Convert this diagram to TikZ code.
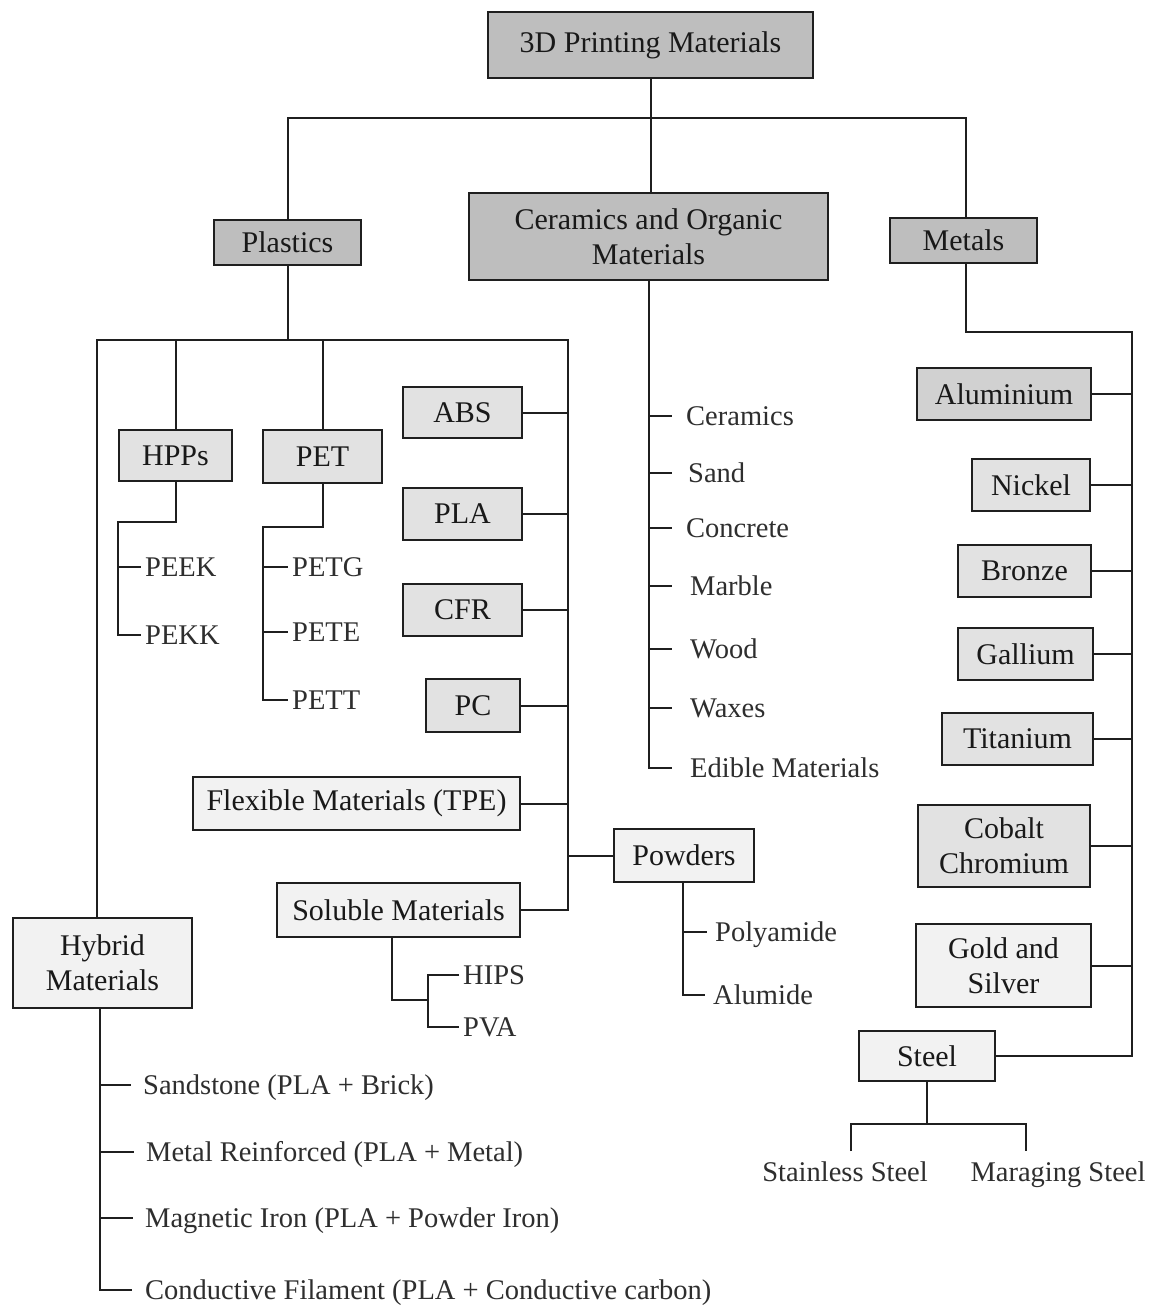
\documentclass[tikz,border=0pt]{standalone}
\usepackage{fontspec}
\setmainfont{Liberation Serif}
\definecolor{cA}{gray}{0.745}
\definecolor{cB}{gray}{0.82}
\definecolor{cC}{gray}{0.885}
\definecolor{cD}{gray}{0.95}
\definecolor{lineC}{gray}{0.12}
\definecolor{txtC}{gray}{0.1}
\definecolor{leafC}{gray}{0.18}
\begin{document}
\begin{tikzpicture}[x=1pt,y=-1pt,
  box/.style={draw=lineC, line width=2.2pt, inner sep=0pt, align=center,
    font=\fontsize{30}{35}\selectfont, text=txtC},
  sz/.style 2 args={minimum width=#1pt, minimum height=#2pt},
  fA/.style={box, fill=cA}, fB/.style={box, fill=cB},
  fC/.style={box, fill=cC}, fD/.style={box, fill=cD},
  leaf/.style={anchor=west, inner xsep=4pt, inner ysep=0pt, text height=19.5pt,
    text depth=0pt, font=\fontsize{28.5}{32}\selectfont, text=leafC},
  conn/.style={line width=2pt, draw=lineC}]
\useasboundingbox (0,0) rectangle (1151,1307);
\fill[white] (0,0) rectangle (1151,1307);

% ---- main boxes
\node[fA, sz={325}{66}] (top) at (650.5,45) {3D Printing Materials};
\node[fA, sz={147}{45}] (plastics) at (287.5,242.5) {Plastics};
\node[fA, sz={359}{87}] (ceram) at (648.5,236.5) {Ceramics and Organic\\Materials};
\node[fA, sz={147}{45}] (metals) at (963.5,240.5) {Metals};

% ---- plastics children
\node[fC, sz={113}{51}] (hpps) at (175.5,455.5) {HPPs};
\node[fC, sz={119}{53}] (pet) at (322.5,456.5) {PET};
\node[fC, sz={119}{51}] (abs) at (462.5,412.5) {ABS};
\node[fC, sz={119}{52}] (pla) at (462.5,514) {PLA};
\node[fC, sz={119}{52}] (cfr) at (462.5,610) {CFR};
\node[fC, sz={94}{53}] (pc) at (473,705.5) {PC};
\node[fD, sz={327}{53}] (flex) at (356.5,803.5) {Flexible Materials (TPE)};
\node[fD, sz={140}{53}] (powders) at (684,855.5) {Powders};
\node[fD, sz={243}{54}] (soluble) at (398.5,910) {Soluble Materials};
\node[fD, sz={179}{90}] (hybrid) at (102.5,963) {Hybrid\\Materials};

% ---- metals children
\node[fB, sz={174}{52}] (alu) at (1004,394) {Aluminium};
\node[fC, sz={118}{52}] (nickel) at (1031,485) {Nickel};
\node[fC, sz={133}{52}] (bronze) at (1024.5,571) {Bronze};
\node[fC, sz={135}{52}] (gallium) at (1025.5,654) {Gallium};
\node[fC, sz={151}{52}] (titanium) at (1017.5,739) {Titanium};
\node[fC, sz={172}{82}] (cobalt) at (1004,846) {Cobalt\\Chromium};
\node[fD, sz={175}{83}] (gold) at (1003.5,965.5) {Gold and\\Silver};
\node[fD, sz={136}{50}] (steel) at (927,1056) {Steel};

% ---- leaves
\node[leaf] (peek) at (141,567) {PEEK};
\node[leaf] (pekk) at (141,635) {PEKK};
\node[leaf] (petg) at (288,567) {PETG};
\node[leaf] (pete) at (288,632) {PETE};
\node[leaf] (pett) at (288,700) {PETT};

\node[leaf] (cer) at (682,416) {Ceramics};
\node[leaf] (sand) at (684,473) {Sand};
\node[leaf] (concrete) at (682,528) {Concrete};
\node[leaf] (marble) at (686,586) {Marble};
\node[leaf] (wood) at (686,649) {Wood};
\node[leaf] (waxes) at (686,708) {Waxes};
\node[leaf] (edible) at (686,768) {Edible Materials};

\node[leaf] (polyamide) at (711,932) {Polyamide};
\node[leaf] (alumide) at (709,995) {Alumide};

\node[leaf] (hips) at (459,975) {HIPS};
\node[leaf] (pva) at (459,1027) {PVA};

\node[leaf] (h1) at (139,1085) {Sandstone (PLA + Brick)};
\node[leaf] (h2) at (142,1152) {Metal Reinforced (PLA + Metal)};
\node[leaf] (h3) at (141,1218) {Magnetic Iron (PLA + Powder Iron)};
\node[leaf] (h4) at (141,1290) {Conductive Filament (PLA + Conductive carbon)};

\node[leaf, anchor=center, inner ysep=11pt] (stainless) at (845,1172) {Stainless Steel};
\node[leaf, anchor=center, inner ysep=11pt] (maraging) at (1058,1172) {Maraging Steel};

% ---- connectors: top level
\coordinate (b0) at (651,118);
\draw[conn] (top.south) -- (top.south |- b0);
\draw[conn] (plastics.north) |- (b0) -| ([xshift=2.5pt]metals.north);
\draw[conn] ([xshift=2pt]ceram.north) -- ([xshift=2pt]ceram.north |- b0);

% ---- plastics
\coordinate (pl) at (97,340);
\coordinate (pr) at (568,340);
\draw[conn] (plastics.south) -- (plastics.south |- pr);
\draw[conn] (hybrid.north -| pl) -- (pl) -- (pr) -- (pr |- soluble.east) -- (soluble.east);
\draw[conn] (hpps.north) -- (hpps.north |- pr);
\draw[conn] (pet.north) -- (pet.north |- pr);
\foreach \n in {abs,pla,cfr,pc,flex} \draw[conn] (\n.east) -- (\n.east -| pr);
\draw[conn] (powders.west) -- (powders.west -| pr);

\coordinate (hj) at (118,522);
\draw[conn] (hpps.south) |- (hj) |- (pekk.west);
\draw[conn] (hj |- peek.west) -- (peek.west);

\coordinate (pj) at (263,527);
\draw[conn] (pet.south) |- (pj) |- (pett.west);
\foreach \n in {petg,pete} \draw[conn] (pj |- \n.west) -- (\n.west);

\coordinate (sj) at (428,1000);
\draw[conn] ([xshift=-7pt]soluble.south) |- (sj);
\draw[conn] (hips.west) -| (sj) |- (pva.west);

\draw[conn, shorten >=4pt] ([xshift=-1pt]powders.south) |- (alumide.west);
\draw[conn, shorten >=4pt] ([xshift=-1pt]powders.south |- polyamide.west) -- (polyamide.west);

\coordinate (hv) at (100,1008);
\draw[conn, shorten >=9pt] (hv) |- (h4.west);
\foreach \n in {h1,h2,h3} \draw[conn, shorten >=8pt] (hv |- \n.west) -- (\n.west);

% ---- ceramics
\draw[conn, shorten >=14pt] (ceram.south) |- (edible.west);
\foreach \n in {cer,concrete} \draw[conn, shorten >=10pt] (ceram.south |- \n.west) -- (\n.west);
\draw[conn, shorten >=12pt] (ceram.south |- sand.west) -- (sand.west);
\foreach \n in {marble,wood,waxes} \draw[conn, shorten >=14pt] (ceram.south |- \n.west) -- (\n.west);

% ---- metals
\coordinate (mr) at (1132,332);
\draw[conn] ([xshift=2.5pt]metals.south) |- (mr) |- (steel.east);
\foreach \n in {alu,nickel,bronze,gallium,titanium,cobalt,gold} \draw[conn] (\n.east) -- (\n.east -| mr);

\coordinate (st) at (926,1124);
\draw[conn] (steel.south) -- (steel.south |- st);
\draw[conn] ([xshift=6pt]stainless.north) |- (st) -| ([xshift=-32pt]maraging.north);
\end{tikzpicture}
\end{document}
